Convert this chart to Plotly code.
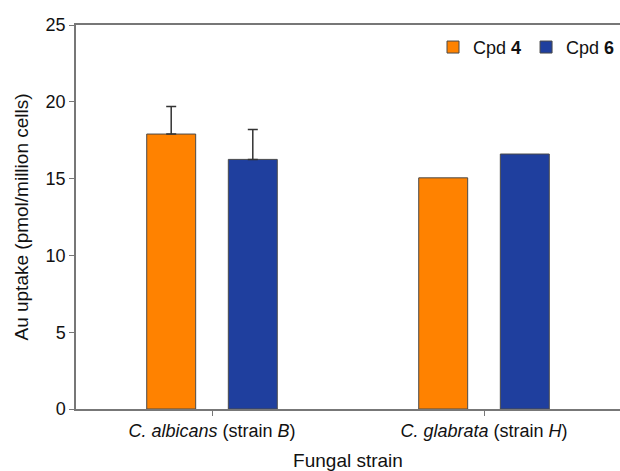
import numpy as np
import plotly.graph_objects as go

categories = ["<i>C. albicans</i> (strain <i>B</i>)", "<i>C. glabrata</i> (strain <i>H</i>)"]
cpd4_values = [17.9, 15.05]
cpd6_values = [16.25, 16.6]
cpd4_err = [1.8, np.nan]
cpd6_err = [1.95, np.nan]
err_minus = [0.0, np.nan]

font_family = "Arial, Liberation Sans, sans-serif"

fig = go.Figure()
fig.add_trace(go.Bar(
    x=categories, y=cpd4_values, name="Cpd <b>4</b>",
    marker=dict(color="#FF8200", line=dict(color="#4a4a4a", width=1)),
    error_y=dict(type="data", array=np.array(cpd4_err), arrayminus=np.array(err_minus),
                 symmetric=False, color="#333333", thickness=1.5, width=5),
))
fig.add_trace(go.Bar(
    x=categories, y=cpd6_values, name="Cpd <b>6</b>",
    marker=dict(color="#1F3F9E", line=dict(color="#4a4a4a", width=1)),
    error_y=dict(type="data", array=np.array(cpd6_err), arrayminus=np.array(err_minus),
                 symmetric=False, color="#333333", thickness=1.5, width=5),
))

fig.update_layout(
    width=620, height=471,
    margin=dict(l=76, r=0, t=25, b=62),
    plot_bgcolor="white", paper_bgcolor="white",
    font=dict(family=font_family, size=18, color="#111111"),
    barmode="group", bargap=0.4, bargroupgap=0.4,
    showlegend=True,
    legend=dict(orientation="h", x=1.0, xanchor="right", y=0.99, yanchor="top",
                font=dict(size=18), itemwidth=30,
                bgcolor="rgba(0,0,0,0)", traceorder="normal"),
)
fig.update_xaxes(
    showline=True, linecolor="#777777", linewidth=1.5, mirror=True,
    ticks="outside", ticklen=5, tickcolor="#777777",
    title=dict(text="Fungal strain", font=dict(size=19), standoff=14),
    tickfont=dict(size=18),
)
fig.update_yaxes(
    range=[0, 25], dtick=5, showgrid=False, zeroline=False,
    showline=True, linecolor="#777777", linewidth=1.5,
    ticks="outside", ticklen=5, tickcolor="#777777",
    title=dict(text="Au uptake (pmol/million cells)", font=dict(size=19), standoff=12),
    tickfont=dict(size=18),
)

fig.write_html("out.html")
